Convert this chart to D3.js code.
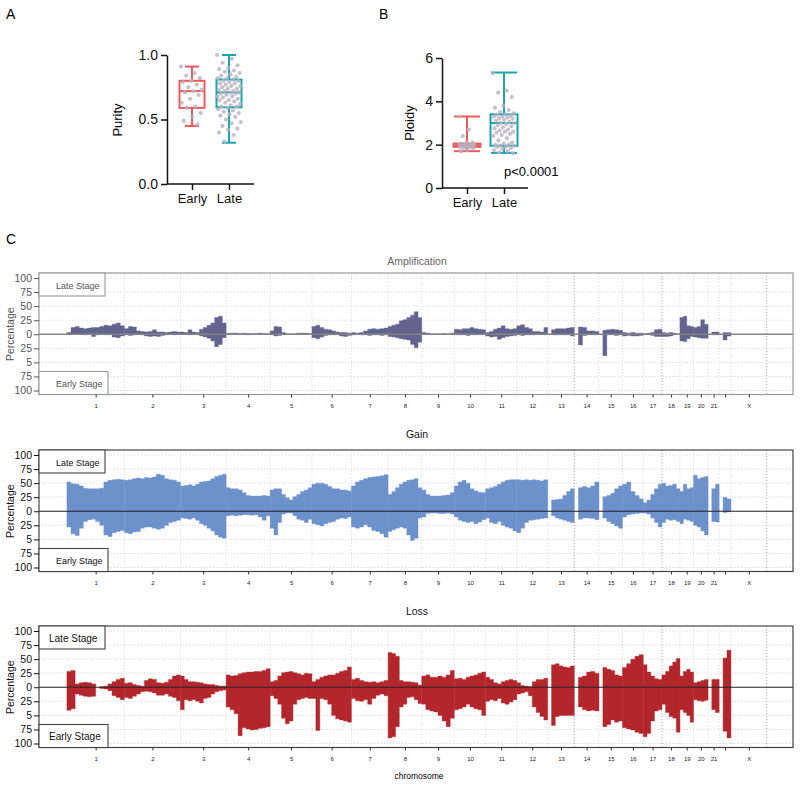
<!DOCTYPE html>
<html><head><meta charset="utf-8">
<script src="https://cdn.jsdelivr.net/npm/d3@7"></script>
<style>
body{margin:0;background:#fff}
svg{display:block}
text{font-family:'Liberation Sans',Arial,Helvetica,sans-serif}
</style>
</head><body>
<svg id="c" width="800" height="786"></svg>
<script>
// ---------------- DATA ----------------
const groups = ["Early", "Late"];
// [min, q1, median, q3, max]
const purityBox = [[0.45, 0.59, 0.72, 0.80, 0.91], [0.32, 0.595, 0.71, 0.81, 1.0]];
const purityEarly = [0.91,0.86,0.84,0.82,0.80,0.79,0.77,0.75,0.73,0.72,0.71,0.69,0.66,0.63,0.60,0.59,0.55,0.52,0.49,0.46];
const purityLate = [1.00,0.97,0.94,0.92,0.90,0.89,0.88,0.87,0.86,0.85,0.84,0.83,0.82,0.82,0.81,0.80,0.80,0.79,0.78,0.78,0.77,0.76,0.76,0.75,0.74,0.74,0.73,0.72,0.72,0.71,0.71,0.70,0.70,0.69,0.68,0.68,0.67,0.66,0.65,0.65,0.64,0.63,0.62,0.61,0.60,0.60,0.59,0.58,0.57,0.56,0.55,0.54,0.53,0.52,0.50,0.48,0.47,0.45,0.43,0.42,0.40,0.38,0.33];
const ploidyBox = [[1.7, 1.9, 1.97, 2.05, 3.3], [1.62, 1.95, 3.0, 3.4, 5.33]];
const ploidyEarly = [3.3,2.7,2.4,2.1,2.1,2.05,2.0,2.0,1.98,1.95,1.95,1.92,1.9,1.9,1.88,1.85,1.8,1.75,1.7];
const ploidyLate = [5.3,4.5,4.4,4.2,3.8,3.7,3.6,3.5,3.45,3.4,3.38,3.35,3.3,3.3,3.25,3.2,3.2,3.15,3.1,3.05,3.0,3.0,2.95,2.9,2.85,2.8,2.75,2.7,2.65,2.6,2.6,2.55,2.5,2.45,2.4,2.3,2.2,2.1,2.05,2.0,2.0,1.95,1.95,1.9,1.9,1.85,1.8,1.75,1.7,1.65,1.6];
const pText = "p<0.0001";

const chromNames = ["1","2","3","4","5","6","7","8","9","10","11","12","13","14","15","16","17","18","19","20","21","","X"];
const chromLen = [249,243,198,191,181,171,159,146,141,136,135,134,115,107,102,90,81,78,59,63,48,51,155,59]; // Mb, last is Y
const yTickValues = [100,75,50,25,0,-25,-50,-75,-100];
const yTickLabels = ["100","75","50","25","0","25","5","75","100"];

// per-chromosome frequency (%) in equal bins; null = no data
const ampLate = [
 [3,12,14,11,10,11,12,12,14,16,15,18,20,15],
 [10,14,13,6,5,4,5,8,4,4,3,4,5,4],
 [4,3,8,4,3,9,12,16,20,30,32,20],
 [2,2,2,1,2,1,1,1,2,1,1],
 [6,14,13,3,0,0,0,2,2,2,1],
 [14,16,12,9,8,6,4,3,3,2],
 [3,2,3,6,9,10,9,10,11],
 [14,16,18,24,26,30,34,40,30],
 [3,2,0,0,0,1,0,2],
 [9,8,10,10,12,10,9,8],
 [3,5,9,11,15,10,9,10],
 [15,17,12,10,5,5,4,12],
 [null,8,10,10,10,11,12],
 [null,13,12,6,6,5],
 [null,7,8,9,8,7],
 [3,2,3,2,2],
 [1,2,3,8,9],
 [3,2,3,2,0],
 [30,32,15,14],
 [12,14,26,18],
 [null,4,4],
 [null,3,3],
 []
];
const ampEarly = [
 [0,0,0,0,1,0,4,1,0,1,0,5,6,3],
 [1,2,1,0,1,3,4,3,4,2,1,0,1,0],
 [0,0,1,0,0,3,5,7,12,22,18,6],
 [0,0,0,0,0,1,0,0,0,0,0],
 [1,3,2,0,0,0,0,0,0,0,0],
 [6,8,5,2,1,1,1,3,4,2],
 [1,0,1,1,2,1,1,2,1],
 [4,5,6,8,9,10,18,24,14],
 [0,0,0,0,0,0,0,0],
 [1,1,1,2,1,1,1,0],
 [3,5,4,9,6,4,3,2],
 [1,2,1,1,1,0,0,1],
 [null,1,1,1,1,1,3],
 [null,19,2,1,1,1],
 [null,38,1,1,2,1],
 [3,2,3,3,2],
 [0,1,2,4,4],
 [4,4,3,1,0],
 [12,13,8,4],
 [5,6,7,7],
 [null,1,1],
 [null,10,3],
 []
];
const gainLate = [
 [52,49,48,45,41,40,40,40,41,52,55,56,57,56],
 [55,56,58,59,58,60,59,61,66,64,58,56,55,52],
 [45,46,47,45,48,52,53,54,58,62,64,66],
 [42,40,40,38,33,28,27,27,27,28,27],
 [38,40,40,30,24,20,26,30,35,38,42],
 [48,50,50,48,44,40,40,38,38,36],
 [45,52,55,58,60,61,62,63,65],
 [30,35,42,48,52,55,56,58,42],
 [38,30,27,27,27,28,29,33],
 [45,52,55,50,40,36,34,33],
 [40,42,44,48,52,55,56,56],
 [56,55,56,55,56,55,54,56],
 [null,20,21,22,28,35,40],
 [null,42,44,42,45,52],
 [null,26,28,32,40,45],
 [48,52,35,28,22],
 [15,20,30,40,48],
 [50,45,46,48,40],
 [35,48,40,42],
 [64,58,60,62],
 [null,40,48],
 [null,25,22],
 []
];
const gainEarly = [
 [28,40,43,30,18,15,14,18,25,42,45,38,36,34],
 [38,40,37,36,30,28,28,30,32,30,25,20,18,16],
 [12,13,14,12,16,22,25,30,35,42,46,48],
 [8,7,8,7,6,6,7,6,10,16,8],
 [30,42,20,5,3,3,8,14,16,20,14],
 [22,24,26,22,20,18,14,12,13,10],
 [28,30,28,24,28,34,36,40,46],
 [36,33,30,28,30,42,52,48,12],
 [10,4,3,3,4,4,3,5],
 [10,16,18,20,18,22,19,15],
 [12,20,22,18,25,28,30,35],
 [38,30,20,16,15,14,13,12],
 [null,8,12,14,16,18,20],
 [null,14,12,12,13,15],
 [null,12,18,22,26,30],
 [10,6,5,4,3],
 [3,5,12,20,28],
 [20,14,16,15,18],
 [22,14,16,18],
 [25,28,35,42],
 [null,18,19],
 [null,2,1],
 []
];
const lossLate = [
 [28,30,6,8,9,8,6,null,1,2,6,10,14,16],
 [7,8,5,3,2,12,15,14,8,7,9,14,20,22],
 [20,14,10,10,9,8,6,5,5,3,2,2],
 [22,20,21,24,26,27,27,28,28,30,33],
 [10,12,20,26,27,28,26,24,22,25,24],
 [10,14,18,20,22,22,25,28,30,36],
 [14,16,12,10,9,10,8,10,12],
 [62,60,55,12,10,10,9,8,4],
 [20,22,18,18,20,18,22,30],
 [15,16,14,18,20,22,25,27],
 [18,14,8,6,10,12,14,12],
 [8,3,2,1,10,14,14,16],
 [null,40,42,38,36,35,38],
 [null,18,20,27,28,25],
 [null,35,32,30,22,20],
 [35,42,50,55,58],
 [40,27,20,15,14],
 [22,28,38,45,51],
 [20,28,32,27],
 [8,10,12,14],
 [null,14,14],
 [null,52,66],
 []
];
const lossEarly = [
 [41,38,12,14,16,17,16,null,2,3,6,15,18,22],
 [18,20,16,12,8,7,8,10,14,14,12,16,18,24],
 [40,22,24,22,25,28,20,18,12,8,6,5],
 [35,40,47,86,72,74,76,75,73,72,70],
 [15,20,30,55,65,60,30,22,20,18,20],
 [20,77,20,22,30,50,56,58,60,62],
 [20,24,25,22,30,20,14,12,15],
 [90,88,70,35,30,18,17,22,29],
 [30,40,42,44,50,60,70,55],
 [40,38,35,30,35,38,40,50],
 [25,22,24,20,28,30,26,22],
 [12,10,8,15,35,45,52,58],
 [null,68,52,50,50,50,50],
 [null,35,40,42,41,42],
 [null,70,66,58,62,60],
 [72,74,76,80,82],
 [88,82,60,42,40],
 [30,45,52,55,80],
 [40,45,50,62],
 [22,24,25,23],
 [null,40,45],
 [null,78,90],
 []
];

// ---------------- DRAW ----------------
const svg = d3.select("#c");
const RED = "#ee5a5b", TEAL = "#17a6ae", PT = "#b7b1c2";

svg.append("text").attr("x", 6).attr("y", 19).style("font-size", "14px").text("A");
svg.append("text").attr("x", 379).attr("y", 19).style("font-size", "14px").text("B");
svg.append("text").attr("x", 6).attr("y", 244).style("font-size", "14px").text("C");

function boxPanel(o) {
  const g = svg.append("g");
  const y = d3.scaleLinear().domain(o.domain).range(o.yRange);
  const xs = d3.scalePoint().domain(groups).range(o.xRange);
  const cols = [RED, TEAL];
  o.box.forEach((b, i) => {
    const cx = xs(groups[i]), c = cols[i];
    const bg = g.append("g").attr("stroke", c).attr("stroke-width", 2).attr("fill", "none");
    bg.append("line").attr("x1", cx).attr("x2", cx).attr("y1", y(b[3])).attr("y2", y(b[4]));
    bg.append("line").attr("x1", cx).attr("x2", cx).attr("y1", y(b[1])).attr("y2", y(b[0]));
    bg.append("line").attr("x1", cx - o.capW / 2).attr("x2", cx + o.capW / 2).attr("y1", y(b[4])).attr("y2", y(b[4]));
    bg.append("line").attr("x1", cx - o.capW / 2).attr("x2", cx + o.capW / 2).attr("y1", y(b[0])).attr("y2", y(b[0]));
    bg.append("rect").attr("x", cx - o.boxW / 2).attr("width", o.boxW).attr("y", y(b[3])).attr("height", y(b[1]) - y(b[3]));
    bg.append("line").attr("x1", cx - o.boxW / 2).attr("x2", cx + o.boxW / 2).attr("y1", y(b[2])).attr("y2", y(b[2]));
    const pts = o.points[i];
    g.append("g").selectAll("circle").data(pts).join("circle")
      .attr("cx", (d, k) => cx + (((k * 0.618034) % 1) - 0.5) * o.spread[i])
      .attr("cy", d => y(d)).attr("r", 2.1)
      .attr("fill", PT).attr("opacity", 0.8);
  });
  const ya = g.append("g").attr("transform", `translate(${o.axisX},0)`)
    .call(d3.axisLeft(y).tickValues(o.ticks).tickFormat(o.fmt).tickSize(6).tickSizeOuter(0).tickPadding(3));
  ya.selectAll("path,line").attr("stroke", "#111").attr("stroke-width", 1.5);
  ya.selectAll("text").style("font-size", "14px").attr("fill", "#111").style("font-family", "'Liberation Sans',Arial,sans-serif");
  g.append("line").attr("x1", o.axisX).attr("x2", o.axisRight).attr("y1", y(0)).attr("y2", y(0))
    .attr("stroke", "#111").attr("stroke-width", 1.5);
  const xa = g.append("g").attr("transform", `translate(0,${y(0)})`)
    .call(d3.axisBottom(xs).tickSize(6).tickPadding(4));
  xa.select(".domain").remove();
  xa.selectAll("line").attr("stroke", "#111").attr("stroke-width", 1.5);
  xa.selectAll("text").style("font-size", "13px").attr("fill", "#111").style("font-family", "'Liberation Sans',Arial,sans-serif");
  g.append("text").attr("transform", `translate(${o.labelX},${o.labelY}) rotate(-90)`)
    .attr("text-anchor", "middle").style("font-size", "13px").text(o.label);
  return y;
}

boxPanel({domain: [0, 1], yRange: [184, 55], xRange: [192, 229], box: purityBox,
  points: [purityEarly, purityLate], capW: 14, boxW: 25, spread: [22, 24],
  axisX: 167, axisRight: 254, ticks: [0, 0.5, 1], fmt: d3.format(".1f"),
  label: "Purity", labelX: 122, labelY: 120});

boxPanel({domain: [0, 6], yRange: [188, 58], xRange: [467, 504], box: ploidyBox,
  points: [ploidyEarly, ploidyLate], capW: 26, boxW: 27, spread: [16, 22],
  axisX: 442, axisRight: 528, ticks: [0, 2, 4, 6], fmt: d3.format("d"),
  label: "Ploidy", labelX: 414, labelY: 123});
svg.append("text").attr("x", 504).attr("y", 176).style("font-size", "13px").text(pText);

// ---------------- Genome panels ----------------
const chromStart = Array.from(d3.cumsum([0, ...chromLen]));
const x = d3.scaleLinear().domain([-121, 3147]).range([39, 793]);
const L = 39, R = 793;

function runsOf(vals, c) {
  const s = chromStart[c], step = chromLen[c] / vals.length;
  const out = []; let cur = null;
  vals.forEach((v, i) => {
    if (v == null) { if (cur) { cur.push({x: s + i * step, v: cur[cur.length - 1].v}); cur = null; } return; }
    if (!cur) { cur = []; out.push(cur); }
    cur.push({x: s + i * step, v});
  });
  if (cur) cur.push({x: s + chromLen[c], v: cur[cur.length - 1].v});
  return out;
}

function genome(cfg) {
  const g = svg.append("g");
  const y = d3.scaleLinear().domain([-100, 100]).range([cfg.y100 + 112.5, cfg.y100]);
  const top = cfg.y100 - 5, bottom = y(-100) + 4;
  yTickValues.filter(v => v !== 0).forEach(v => {
    g.append("line").attr("x1", L).attr("x2", R).attr("y1", y(v)).attr("y2", y(v))
      .attr("stroke", "#cfcfcf").attr("stroke-dasharray", "1.2,1.8").attr("stroke-width", 0.8);
  });
  for (let i = 1; i <= 23; i++) {
    const dark = (i === 13 || i === 17 || i === 23);
    g.append("line").attr("x1", x(chromStart[i])).attr("x2", x(chromStart[i])).attr("y1", top).attr("y2", bottom)
      .attr("stroke", dark ? "#a8a8a8" : "#d4d4d4").attr("stroke-dasharray", "1.2,1.8").attr("stroke-width", dark ? 1 : 0.8);
  }
  [[cfg.late, 1], [cfg.early, -1]].forEach(([series, sign]) => {
    const area = d3.area().curve(d3.curveStepAfter)
      .x(d => x(d.x)).y0(y(0)).y1(d => y(sign * d.v));
    series.forEach((vals, c) => {
      runsOf(vals, c).forEach(run => {
        g.append("path").attr("d", area(run)).attr("fill", cfg.color)
          .attr("stroke", cfg.color).attr("stroke-width", 0.4);
      });
    });
  });
  g.append("line").attr("x1", L).attr("x2", R).attr("y1", y(0)).attr("y2", y(0))
    .attr("stroke", cfg.zeroColor).attr("stroke-width", cfg.zeroW);
  g.append("rect").attr("x", L).attr("y", top).attr("width", R - L).attr("height", bottom - top)
    .attr("fill", "none").attr("stroke", cfg.frame).attr("stroke-width", 1.2);
  g.append("rect").attr("x", L).attr("y", top).attr("width", 66).attr("height", 23)
    .attr("fill", "#fff").attr("stroke", cfg.frame).attr("stroke-width", 1.1);
  g.append("rect").attr("x", L).attr("y", bottom - 23).attr("width", 69).attr("height", 23)
    .attr("fill", "#fff").attr("stroke", cfg.frame).attr("stroke-width", 1.1);
  g.append("text").attr("x", cfg.stageX).attr("y", top + 15.5).style("font-size", cfg.stageFont + "px")
    .attr("fill", cfg.text).text("Late Stage");
  g.append("text").attr("x", cfg.stageX).attr("y", bottom - 7.5).style("font-size", cfg.stageFont + "px")
    .attr("fill", cfg.text).text("Early Stage");
  const ya = g.append("g").attr("transform", `translate(${L},0)`)
    .call(d3.axisLeft(y).tickValues(yTickValues).tickFormat((d, i) => yTickLabels[i]).tickSize(5).tickPadding(2));
  ya.select(".domain").remove();
  ya.selectAll("line").attr("stroke", cfg.text);
  ya.selectAll("text").style("font-size", "10.5px").attr("fill", cfg.text).style("font-family", "'Liberation Sans',Arial,sans-serif");
  g.append("text").attr("transform", `translate(14,${y(0)}) rotate(-90)`).attr("text-anchor", "middle")
    .style("font-size", "10.5px").attr("fill", cfg.text).text("Percentage");
  const centers = chromNames.map((n, i) => chromStart[i] + chromLen[i] / 2);
  const xa = g.append("g").attr("transform", `translate(0,${bottom})`)
    .call(d3.axisBottom(x).tickValues(centers).tickFormat((d, i) => chromNames[i]).tickSize(3).tickPadding(6));
  xa.select(".domain").remove();
  xa.selectAll("line").attr("stroke", "#333");
  xa.selectAll("text").style("font-size", "6px").attr("fill", "#222").style("font-family", "'Liberation Sans',Arial,sans-serif");
  g.append("text").attr("x", 417).attr("y", cfg.titleY).attr("text-anchor", "middle")
    .style("font-size", "10.5px").attr("fill", cfg.titleColor).text(cfg.title);
}

genome({y100: 278, title: "Amplification", titleY: 265, titleColor: "#666", late: ampLate, early: ampEarly,
  color: "#62648f", frame: "#9a9a9a", text: "#555", zeroColor: "#858585", zeroW: 1.6, stageX: 56, stageFont: 9});
genome({y100: 455, title: "Gain", titleY: 438, titleColor: "#111", late: gainLate, early: gainEarly,
  color: "#6d91cb", frame: "#444", text: "#111", zeroColor: "#222", zeroW: 1, stageX: 56, stageFont: 9});
genome({y100: 631, title: "Loss", titleY: 615, titleColor: "#111", late: lossLate, early: lossEarly,
  color: "#b3272c", frame: "#444", text: "#111", zeroColor: "#222", zeroW: 1, stageX: 49, stageFont: 10});

svg.append("text").attr("x", 419).attr("y", 779).attr("text-anchor", "middle").style("font-size", "8.5px").text("chromosome");
</script>
</body></html>
